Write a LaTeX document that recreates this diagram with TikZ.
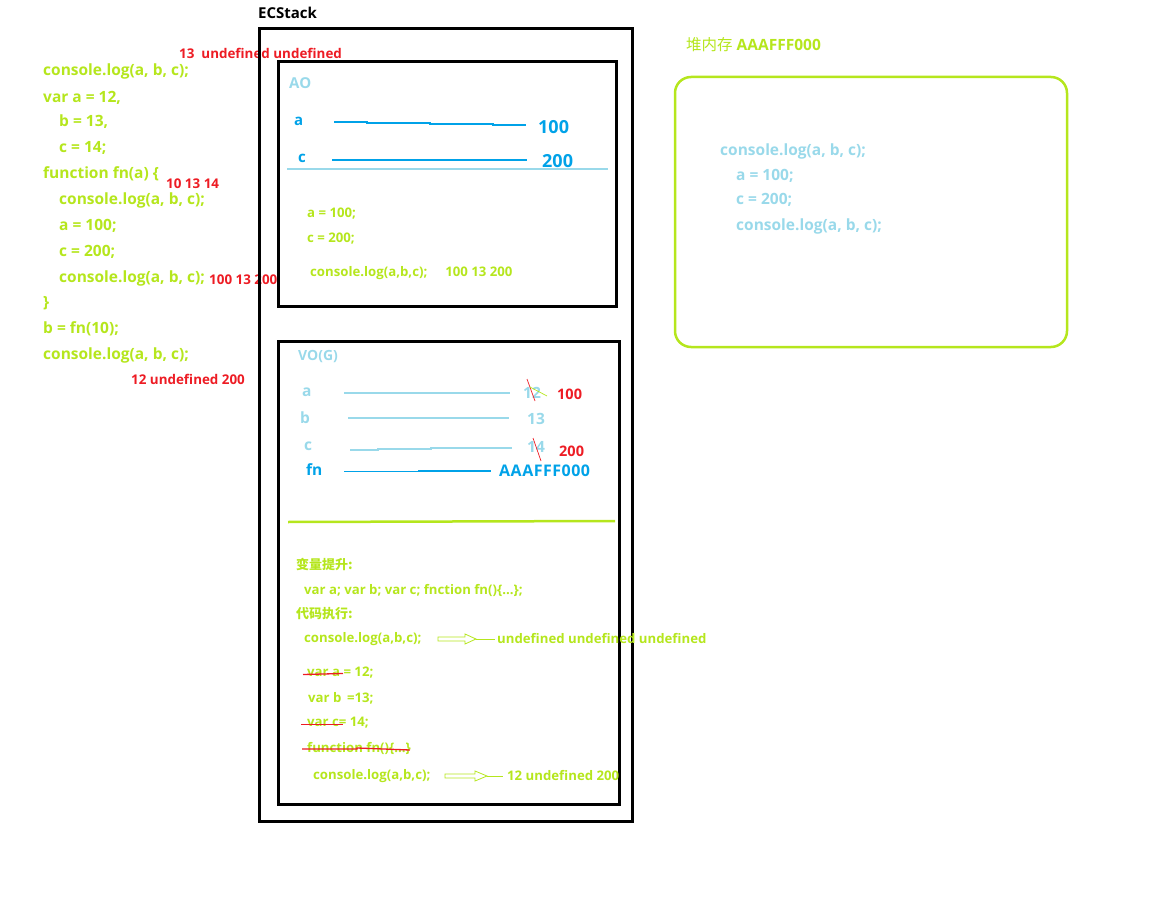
\documentclass[tikz,border=0pt]{standalone}
\usepackage{fontspec}
\setmainfont{Open Sans}
\newfontfamily\cjk{Noto Sans CJK SC}
\definecolor{lime}{HTML}{B5E61D}
\definecolor{lblue}{HTML}{99D9EA}
\definecolor{tblue}{HTML}{00A2E8}
\definecolor{pred}{HTML}{ED1C24}
\tikzset{
  txt/.style={anchor=west, inner sep=0pt, font=\bfseries\fontsize{15.5}{17}\selectfont},
  code/.style={txt, text=lime},
  small/.style={anchor=west, inner sep=0pt, font=\bfseries\fontsize{13.2}{15}\selectfont},
  scode/.style={small, text=lime},
  redt/.style={anchor=west, inner sep=0pt, text=pred, font=\bfseries\fontsize{13.4}{15}\selectfont},
  heapt/.style={anchor=west, inner sep=0pt, text=lblue, font=\bfseries\fontsize{15.5}{17}\selectfont},
  bigblue/.style={anchor=west, inner sep=0pt, text=tblue, font=\bfseries\fontsize{18}{20}\selectfont},
  vnum/.style={anchor=west, inner sep=0pt, text=lblue, font=\bfseries\fontsize{15.5}{17}\selectfont},
  frame/.style={draw=black, line width=3pt},
  vline/.style={line width=1.8pt},
  strike/.style={draw=pred, line width=1.3pt},
  hollow/.style={draw=lime, line width=0.8pt},
}
\begin{document}
\begin{tikzpicture}[x=1pt,y=-1pt]
\useasboundingbox (0,0) rectangle (1152,923);
% ---------- left code ----------
\node[code] (l1) at (43,71) {console.log(a, b, c);};
\node[code] (l2) at (43,98) {var a = 12,};
\node[code] (l3) at (59,122) {b = 13,};
\node[code] (l4) at (59,148) {c = 14;};
\node[code] (l5) at (43,174) {function fn(a) \{};
\node[code] (l6) at (59,200) {console.log(a, b, c);};
\node[code] (l7) at (59,226) {a = 100;};
\node[code] (l8) at (59,252) {c = 200;};
\node[code] (l9) at (59,278) {console.log(a, b, c);};
\node[code] (l10) at (43,303) {\}};
\node[code] (l11) at (43,329) {b = fn(10);};
\node[code] (l12) at (43,355) {console.log(a, b, c);};
% red annotations
\node[redt] (r1) at (179,53) {13\ \ undefined undefined};
\node[redt] (r2) at (166,184) {10 13 14};
\node[redt] (r3) at (209,280) {100 13 200};
\node[redt] (r4) at (131,379) {12 undefined 200};
% ---------- ECStack ----------
\node[anchor=west, inner sep=0pt, font=\bfseries\fontsize{15}{17}\selectfont] (ecl) at (258,13) {ECStack};
\draw[frame] (259,29) rectangle (632,821);
% AO box
\draw[frame] (278,62) rectangle (616,306);
\node[small, text=lblue, font=\bfseries\fontsize{15}{17}\selectfont] (ao) at (289,83) {AO};
\node[small, text=tblue, font=\bfseries\fontsize{15}{17}\selectfont] (aoa) at (294,121) {a};
\node[small, text=tblue, font=\bfseries\fontsize{15}{17}\selectfont] (aoc) at (298,158) {c};
\node[bigblue] (ao100) at (538,127) {100};
\node[bigblue] (ao200) at (542,161) {200};
\draw[tblue, line width=2.2pt] (334,122) -- (367,122) -- (367,123) -- (430,123) -- (430,124) -- (493,124) -- (493,125) -- (526,125);
\draw[tblue, line width=2.2pt] (332,160) -- (527,160);
\draw[lblue, line width=2.5pt] (287,169) -- (608,169);
\node[scode] (ao1) at (307,214) {a = 100;};
\node[scode] (ao2) at (307,239) {c = 200;};
\node[scode] (ao3) at (310,273) {console.log(a,b,c);\hspace{18pt}100 13 200};
% VO box
\draw[frame] (278,341) rectangle (619,804);
\node[anchor=west, inner sep=0pt, text=lblue, font=\bfseries\fontsize{14}{16}\selectfont] (vo) at (298,357) {VO(G)};
\node[vnum] (voa) at (302,392) {a};
\node[vnum] (vob) at (300,418) {b};
\node[vnum] (voc) at (304,446) {c};
\node[vnum, text=tblue] (vofn) at (306,470) {fn};
\draw[lblue, vline] (344,393) -- (510,393);
\draw[lblue, vline] (348,418) -- (509,418);
\draw[lblue, vline] (350,450) -- (378,450) -- (378,449) -- (431,449) -- (431,448) -- (512,448);
\draw[tblue, line width=0.8pt] (344,471) -- (418,471);
\draw[tblue, line width=1.8pt] (418,471) -- (491,471);
\node[vnum] (v12) at (523,393) {12};
\node[vnum] (v13) at (527,419) {13};
\node[vnum] (v14) at (527,447) {14};
\node[anchor=west, inner sep=0pt, text=tblue, font=\bfseries\fontsize{16}{18}\selectfont] (vaddr) at (499,471) {A\kern0.5pt A\kern0.5pt A\kern0.5pt F\kern0.5pt F\kern0.5pt F\kern0.5pt 0\kern0.5pt 0\kern0.5pt 0};
\node[redt, font=\bfseries\fontsize{14.5}{16}\selectfont] (v100) at (557,394) {100};
\node[redt, font=\bfseries\fontsize{14.5}{16}\selectfont] (v200) at (559,451) {200};
\draw[pred, line width=0.7pt] (527,379) -- (535,401);
\draw[lime, line width=0.7pt] (530,387) -- (547,396);
\draw[pred, line width=0.7pt] (533,438) -- (541,461);
\draw[lime, line width=2.5pt] (288,522) -- (615,521);
% hoisting
\node[scode, font=\cjk\bfseries\fontsize{13}{15}\selectfont] (h1) at (296,564) {变量提升:};
\node[scode] (h2) at (304,590) {var a; var b; var c; fnction fn()\{...\};};
\node[scode, font=\cjk\bfseries\fontsize{13}{15}\selectfont] (h3) at (296,614) {代码执行:};
\node[scode] (h4) at (304,639) {console.log(a,b,c);};
\node[scode] (h5) at (497,639) {undefined undefined undefined};
\draw[hollow] (438,637) -- (465,637) -- (465,634) -- (476,639) -- (465,644) -- (465,641) -- (438,641) -- cycle;
\draw[hollow] (476,639) -- (495,639);
\node[scode] (e1) at (307,673) {var a = 12;};
\node[scode] (e2) at (308,698) {var b \,=13;};
\node[scode] (e3) at (307,723) {var c= 14;};
\node[scode] (e4) at (307,748) {function fn()\{...\}};
\node[scode] (e5) at (313,776) {console.log(a,b,c);};
\node[scode] (e6) at (507,776) {12 undefined 200};
\draw[hollow] (445,774) -- (475,774) -- (475,771) -- (487,776) -- (475,781) -- (475,778) -- (445,778) -- cycle;
\draw[hollow] (487,776) -- (503,776);
\draw[strike] (303,674.5) -- (343,673.5);
\draw[strike] (301,724.5) -- (343,724.5);
\draw[strike] (302,749) -- (357,749) -- (357,748) -- (410,750);
% ---------- heap ----------
\node[anchor=west, inner sep=0pt, text=lime, font=\fontsize{15.5}{17}\selectfont] (heapl) at (686,45) {{\cjk 堆内存}\ \textbf{AAAFFF000}};
\draw[lime, line width=2.5pt, rounded corners=16pt] (675,77) rectangle (1067,347);
\node[heapt] (hp1) at (720,151) {console.log(a, b, c);};
\node[heapt] (hp2) at (736,176) {a = 100;};
\node[heapt] (hp3) at (736,200) {c = 200;};
\node[heapt] (hp4) at (736,226) {console.log(a, b, c);};
\end{tikzpicture}
\end{document}
